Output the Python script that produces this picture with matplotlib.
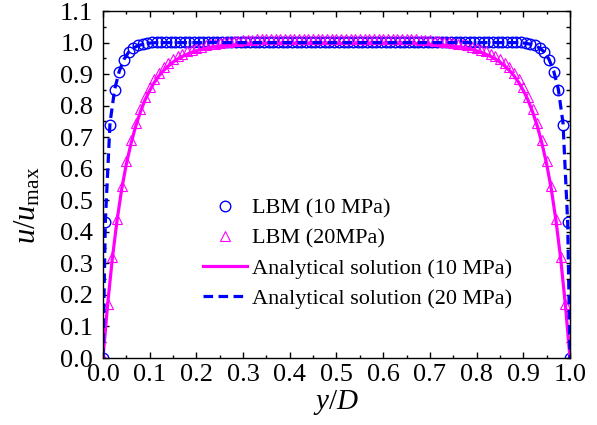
import numpy as np
import matplotlib
matplotlib.use("Agg")
import matplotlib.pyplot as plt
from matplotlib.ticker import MultipleLocator, FormatStrFormatter

plt.rcParams['font.family'] = 'Liberation Serif'
plt.rcParams['mathtext.fontset'] = 'custom'
plt.rcParams['mathtext.rm'] = 'Liberation Serif'
plt.rcParams['mathtext.it'] = 'Liberation Serif:italic'

BLUE = '#0000ff'
MAGENTA = '#ff00ff'

# LBM (10 MPa): nodes at the walls plus cell centres
lbm10_x = np.concatenate(([0.0], np.arange(0.005, 1.0, 0.01), [1.0]))
lbm10_u = [
    0.0, 0.43, 0.74, 0.85, 0.908, 0.946, 0.970, 0.983, 0.991, 0.996,
    0.999, 1.001, 1.002,
    1.003, 1.003, 1.003, 1.003, 1.003, 1.003, 1.003, 1.003, 1.003, 1.003,
    1.003, 1.003, 1.003, 1.003, 1.003, 1.003, 1.003, 1.003, 1.003, 1.003,
    1.003, 1.003, 1.003, 1.003, 1.003, 1.003, 1.003, 1.003, 1.003, 1.003,
    1.003, 1.003, 1.003, 1.003, 1.003, 1.003, 1.003, 1.003, 1.003, 1.003,
    1.003, 1.003, 1.003, 1.003, 1.003, 1.003, 1.003, 1.003, 1.003, 1.003,
    1.003, 1.003, 1.003, 1.003, 1.003, 1.003, 1.003, 1.003, 1.003, 1.003,
    1.003, 1.003, 1.003, 1.003, 1.003, 1.003, 1.003, 1.003, 1.003, 1.003,
    1.003, 1.003, 1.003, 1.003, 1.003, 1.003,
    1.002, 1.001, 0.999, 0.996, 0.991, 0.983, 0.970, 0.946, 0.908, 0.85,
    0.74, 0.43, 0.0,
]

# Analytical solution (20 MPa), blue dashed
ana20_x = lbm10_x
ana20_u = [
    0.0, 0.43, 0.745, 0.852, 0.91, 0.947, 0.970, 0.983, 0.990, 0.995,
    0.998, 0.999,
    1.0, 1.0, 1.0, 1.0, 1.0, 1.0, 1.0, 1.0, 1.0, 1.0,
    1.0, 1.0, 1.0, 1.0, 1.0, 1.0, 1.0, 1.0, 1.0, 1.0,
    1.0, 1.0, 1.0, 1.0, 1.0, 1.0, 1.0, 1.0, 1.0, 1.0,
    1.0, 1.0, 1.0, 1.0, 1.0, 1.0, 1.0, 1.0, 1.0, 1.0,
    1.0, 1.0, 1.0, 1.0, 1.0, 1.0, 1.0, 1.0, 1.0, 1.0,
    1.0, 1.0, 1.0, 1.0, 1.0, 1.0, 1.0, 1.0, 1.0, 1.0,
    1.0, 1.0, 1.0, 1.0, 1.0, 1.0, 1.0, 1.0, 1.0, 1.0,
    1.0, 1.0, 1.0, 1.0, 1.0, 1.0, 1.0, 1.0,
    0.999, 0.998, 0.995, 0.990, 0.983, 0.970, 0.947, 0.91, 0.852, 0.745,
    0.43, 0.0,
]

# LBM (20 MPa), magenta triangles
lbm20_x = np.linspace(0.0, 1.0, 101)
lbm20_u = [
    0.0, 0.17, 0.32, 0.44, 0.545, 0.625, 0.69, 0.745, 0.79, 0.828,
    0.858, 0.884, 0.905, 0.922, 0.936, 0.948, 0.957, 0.965, 0.972, 0.978,
    0.983, 0.987, 0.991, 0.994, 0.997, 0.999, 1.001, 1.003, 1.005, 1.006,
    1.007, 1.008, 1.009, 1.010, 1.011, 1.011,
    1.012, 1.012, 1.012, 1.012, 1.012, 1.012, 1.012, 1.012, 1.012, 1.012,
    1.012, 1.012, 1.012, 1.012, 1.012, 1.012, 1.012, 1.012, 1.012, 1.012,
    1.012, 1.012, 1.012, 1.012, 1.012, 1.012, 1.012, 1.012, 1.012,
    1.011, 1.011, 1.010, 1.009, 1.008, 1.007, 1.006, 1.005, 1.003, 1.001,
    0.999, 0.997, 0.994, 0.991, 0.987, 0.983, 0.978, 0.972, 0.965, 0.957,
    0.948, 0.936, 0.922, 0.905, 0.884, 0.858, 0.828, 0.79, 0.745, 0.69,
    0.625, 0.545, 0.44, 0.32, 0.17, 0.0,
]

# Analytical solution (10 MPa), magenta solid
ana10_x = lbm20_x
ana10_u = [
    0.0, 0.17, 0.315, 0.435, 0.535, 0.615, 0.68, 0.735, 0.78, 0.818,
    0.848, 0.874, 0.895, 0.912, 0.926, 0.938, 0.948, 0.956, 0.963, 0.969,
    0.974, 0.978, 0.982, 0.985, 0.987, 0.989, 0.991, 0.992, 0.993, 0.994,
    0.995, 0.996, 0.996, 0.997, 0.997, 0.997,
    0.997, 0.997, 0.997, 0.997, 0.997, 0.997, 0.997, 0.997, 0.997, 0.997,
    0.997, 0.997, 0.997, 0.997, 0.997, 0.997, 0.997, 0.997, 0.997, 0.997,
    0.997, 0.997, 0.997, 0.997, 0.997, 0.997, 0.997, 0.997, 0.997,
    0.997, 0.997, 0.997, 0.996, 0.996, 0.995, 0.994, 0.993, 0.992, 0.991,
    0.989, 0.987, 0.985, 0.982, 0.978, 0.974, 0.969, 0.963, 0.956, 0.948,
    0.938, 0.926, 0.912, 0.895, 0.874, 0.848, 0.818, 0.78, 0.735, 0.68,
    0.615, 0.535, 0.435, 0.315, 0.17, 0.0,
]

fig = plt.figure(figsize=(5.97, 4.25), dpi=100)
ax = fig.add_axes([0.1725, 0.1576, 0.7823, 0.8164])

h1, = ax.plot(lbm10_x, lbm10_u, 'o', mfc='none', mec=BLUE, ms=7.6, mew=1.0,
              label='LBM (10 MPa)')
h2, = ax.plot(lbm20_x, lbm20_u, '^', mfc='none', mec=MAGENTA, ms=7.4, mew=0.8,
              label='LBM (20MPa)')
h3, = ax.plot(ana10_x, ana10_u, '-', color=MAGENTA, lw=2.3,
              label='Analytical solution (10 MPa)')
h4, = ax.plot(ana20_x, ana20_u, '--', color=BLUE, lw=2.3, dashes=(3, 1.7),
              label='Analytical solution (20 MPa)')

ax.set_xlim(0, 1.0)
ax.set_ylim(0, 1.1)
ax.set_xticks(np.arange(0, 1.01, 0.1))
ax.set_yticks(np.arange(0, 1.11, 0.1))
ax.xaxis.set_minor_locator(MultipleLocator(0.05))
ax.yaxis.set_minor_locator(MultipleLocator(0.05))
ax.xaxis.set_major_formatter(FormatStrFormatter('%.1f'))
ax.yaxis.set_major_formatter(FormatStrFormatter('%.1f'))
ax.tick_params(which='both', direction='in', top=True, right=False,
               labelsize=19, width=1.0)
ax.tick_params(which='major', length=4.5)
ax.tick_params(which='minor', length=2.5)
ax.tick_params(axis='y', pad=7)
ax.tick_params(axis='x', pad=4)

sec = ax.secondary_yaxis('right')
sec.set_yticks(np.arange(0, 1.11, 0.05))
sec.tick_params(direction='in', length=3.0, width=1.0, labelright=False)

for sp in ax.spines.values():
    sp.set_linewidth(1.0)

ax.set_xlabel(r'$y/D$', fontsize=21, labelpad=2)
ax.set_ylabel(r'$u/u_{\mathrm{max}}$', fontsize=22)
ax.yaxis.set_label_coords(-0.13, 0.44)

ax.legend(handles=[h1, h2, h3, h4], loc='upper left',
          bbox_to_anchor=(0.214, 0.46), frameon=False, fontsize=16,
          handlelength=2.0, handletextpad=0.2, labelspacing=0.42,
          borderpad=0, borderaxespad=0, numpoints=1)

fig.savefig('out.png', dpi=100)
